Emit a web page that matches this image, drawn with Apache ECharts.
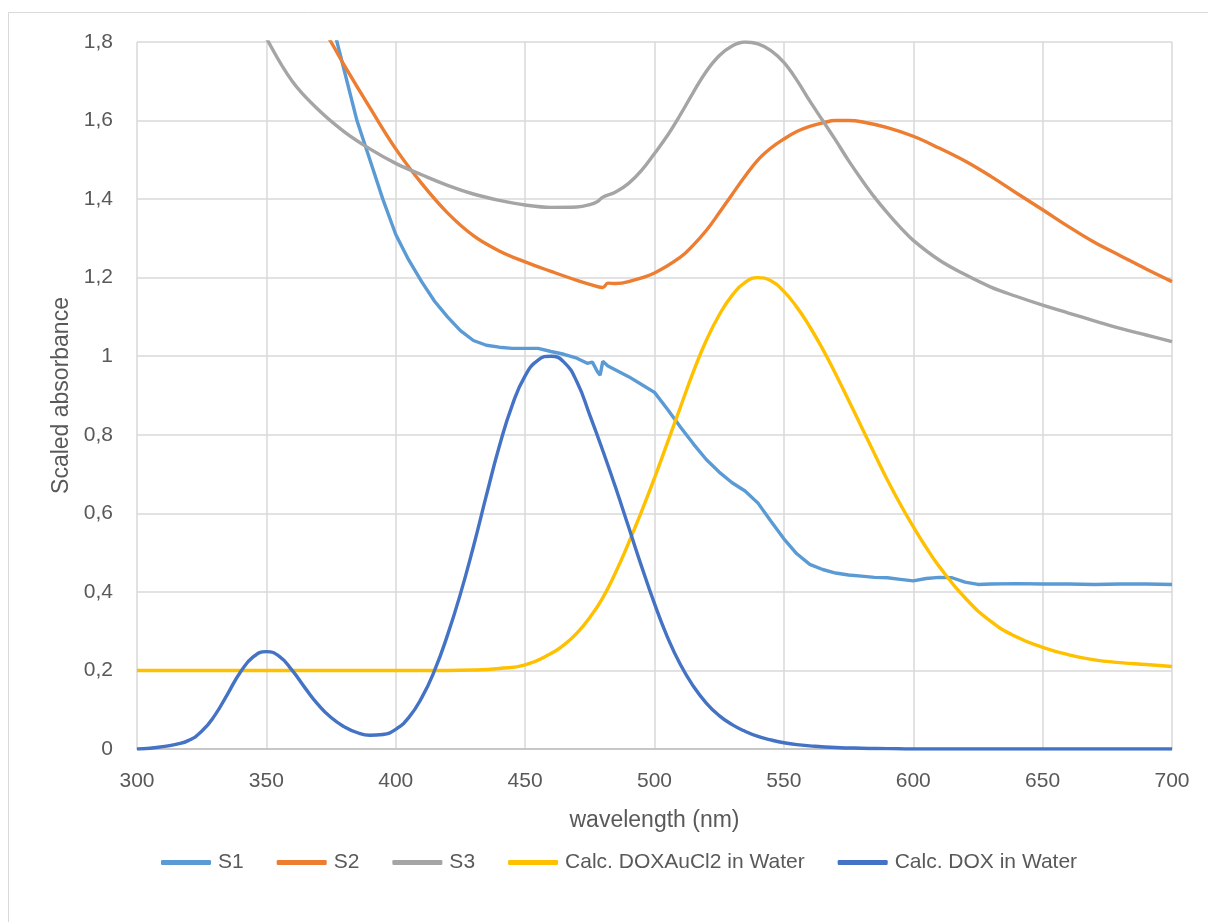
<!DOCTYPE html>
<html>
<head>
<meta charset="utf-8">
<script src="https://cdn.jsdelivr.net/npm/echarts@6/dist/echarts.min.js"></script>
<style>
html,body{margin:0;padding:0;background:#fff;}
#chart{width:1208px;height:922px;}
</style>
</head>
<body>
<div id="chart"></div>
<script>
// ---- Data ----
const xTicks = [300, 350, 400, 450, 500, 550, 600, 650, 700];
const yTicks = [0, 0.2, 0.4, 0.6, 0.8, 1, 1.2, 1.4, 1.6, 1.8];

const s1Wl  = [300, 330, 340, 350, 360, 370, 375, 380, 385, 390, 395, 400, 405, 410, 415, 420, 425, 430, 435, 440, 445, 450, 455, 460, 465, 470, 474, 476, 478, 479, 480, 482, 485, 490, 495, 500, 505, 510, 515, 520, 525, 530, 535, 540, 545, 550, 555, 560, 565, 570, 575, 580, 585, 590, 595, 600, 605, 610, 615, 620, 625, 630, 640, 650, 660, 670, 680, 690, 700];
const s1Abs = [3.9, 3.05, 2.78, 2.5, 2.25, 1.99, 1.86, 1.73, 1.6, 1.5, 1.4, 1.31, 1.245, 1.19, 1.14, 1.1, 1.065, 1.04, 1.028, 1.023, 1.02, 1.02, 1.02, 1.012, 1.005, 0.995, 0.982, 0.985, 0.96, 0.952, 0.987, 0.975, 0.965, 0.948, 0.928, 0.908, 0.865, 0.82, 0.777, 0.737, 0.705, 0.678, 0.657, 0.626, 0.58, 0.535, 0.497, 0.47, 0.457, 0.448, 0.443, 0.44, 0.437, 0.436, 0.432, 0.428, 0.434, 0.437, 0.436, 0.425, 0.419, 0.42, 0.421, 0.42, 0.42, 0.419, 0.42, 0.42, 0.419];

const s2Wl  = [300, 320, 340, 350, 360, 370, 375, 380, 390, 400, 410, 420, 430, 440, 450, 460, 470, 475, 480, 482, 485, 490, 500, 510, 515, 520, 525, 530, 535, 540, 545, 550, 555, 560, 565, 570, 575, 580, 590, 600, 610, 620, 630, 640, 650, 660, 670, 680, 690, 700];
const s2Abs = [2.72, 2.46, 2.21, 2.09, 1.97, 1.855, 1.8, 1.742, 1.633, 1.528, 1.44, 1.365, 1.307, 1.268, 1.24, 1.216, 1.193, 1.183, 1.175, 1.186, 1.185, 1.19, 1.212, 1.252, 1.283, 1.32, 1.365, 1.412, 1.458, 1.5, 1.53, 1.553, 1.572, 1.585, 1.594, 1.6, 1.6, 1.597, 1.582, 1.56, 1.53, 1.497, 1.458, 1.415, 1.373, 1.33, 1.29, 1.256, 1.222, 1.19];

const s3Wl  = [300, 310, 320, 330, 340, 345, 350, 360, 370, 380, 390, 400, 410, 420, 430, 440, 450, 460, 470, 475, 478, 480, 485, 490, 495, 500, 505, 510, 515, 520, 525, 530, 535, 540, 545, 550, 555, 560, 565, 570, 575, 580, 585, 590, 595, 600, 610, 620, 630, 640, 650, 660, 670, 680, 690, 700];
const s3Abs = [2.75, 2.52, 2.32, 2.13, 1.96, 1.88, 1.81, 1.7, 1.628, 1.572, 1.528, 1.491, 1.462, 1.435, 1.413, 1.397, 1.385, 1.379, 1.38, 1.386, 1.394, 1.405, 1.418, 1.44, 1.473, 1.516, 1.562, 1.615, 1.672, 1.725, 1.765, 1.79, 1.8, 1.795, 1.778, 1.748, 1.703, 1.65, 1.6, 1.55, 1.498, 1.45, 1.405, 1.365, 1.328, 1.295, 1.245, 1.208, 1.176, 1.152, 1.13, 1.11, 1.09, 1.071, 1.054, 1.037];

const auWl  = [300, 320, 340, 360, 380, 400, 420, 430, 440, 450, 460, 465, 470, 475, 480, 485, 490, 495, 500, 505, 510, 515, 520, 525, 530, 535, 540, 545, 550, 555, 560, 565, 570, 575, 580, 585, 590, 595, 600, 605, 610, 620, 630, 640, 650, 660, 670, 680, 690, 700];
const auAbs = [0.2, 0.2, 0.2, 0.2, 0.2, 0.2, 0.2, 0.201, 0.205, 0.214, 0.243, 0.265, 0.295, 0.335, 0.385, 0.45, 0.525, 0.605, 0.69, 0.78, 0.87, 0.96, 1.04, 1.105, 1.155, 1.188, 1.2, 1.192, 1.165, 1.125, 1.075, 1.018, 0.955, 0.888, 0.82, 0.752, 0.685, 0.623, 0.566, 0.513, 0.465, 0.385, 0.325, 0.285, 0.259, 0.24, 0.227, 0.22, 0.215, 0.21];

const doxWl  = [300, 305, 310, 315, 320, 325, 330, 335, 340, 345, 350, 355, 360, 365, 370, 375, 380, 385, 390, 395, 400, 405, 410, 415, 420, 425, 430, 435, 440, 445, 450, 455, 460, 465, 470, 475, 480, 485, 490, 495, 500, 505, 510, 515, 520, 525, 530, 535, 540, 545, 550, 555, 560, 570, 580, 590, 600, 650, 700];
const doxAbs = [0, 0.002, 0.006, 0.012, 0.022, 0.045, 0.085, 0.14, 0.196, 0.235, 0.248, 0.236, 0.2, 0.155, 0.113, 0.08, 0.057, 0.042, 0.035, 0.037, 0.05, 0.08, 0.13, 0.2, 0.29, 0.395, 0.515, 0.645, 0.77, 0.875, 0.95, 0.99, 1.0, 0.985, 0.935, 0.85, 0.76, 0.665, 0.565, 0.465, 0.37, 0.285, 0.215, 0.16, 0.117, 0.085, 0.062, 0.045, 0.032, 0.023, 0.016, 0.011, 0.008, 0.004, 0.002, 0.001, 0, 0, 0];

const seriesNames = ['S1', 'S2', 'S3', 'Calc. DOXAuCl2 in Water', 'Calc. DOX in Water'];
const seriesColors = ['#5B9BD5', '#ED7D31', '#A5A5A5', '#FFC000', '#4472C4'];

// ---- Build ----
const pairs = (xs, ys) => xs.map((x, i) => [x, ys[i]]);
const allData = [pairs(s1Wl, s1Abs), pairs(s2Wl, s2Abs), pairs(s3Wl, s3Abs), pairs(auWl, auAbs), pairs(doxWl, doxAbs)];
const smoothFlags = [false, 0.4, 0.4, 0.5, 0.5];

const FONT = '"Liberation Sans", Arial, sans-serif';
const chart = echarts.init(document.getElementById('chart'), null, {renderer: 'canvas'});
chart.setOption({
  animation: false,
  backgroundColor: '#fff',
  textStyle: {fontFamily: FONT},
  graphic: [{
    type: 'rect', silent: true, z: -10,
    shape: {x: 8.5, y: 12.5, width: 1300, height: 1000},
    style: {fill: 'none', stroke: '#D9D9D9', lineWidth: 1}
  }],
  grid: {left: 137, right: 36, top: 42, bottom: 173, containLabel: false},
  xAxis: {
    type: 'value', min: xTicks[0], max: xTicks[xTicks.length - 1], interval: 50,
    name: 'wavelength (nm)', nameLocation: 'middle', nameGap: 60,
    nameTextStyle: {color: '#595959', fontSize: 23, fontFamily: FONT},
    axisLine: {show: true, lineStyle: {color: '#BFBFBF', width: 1.5}},
    axisTick: {show: false},
    axisLabel: {color: '#595959', fontSize: 21, margin: 22, fontFamily: FONT},
    splitLine: {show: true, lineStyle: {color: '#D9D9D9', width: 1.5}}
  },
  yAxis: {
    type: 'value', min: yTicks[0], max: yTicks[yTicks.length - 1], interval: 0.2,
    name: 'Scaled absorbance', nameLocation: 'middle', nameGap: 62, nameRotate: 90,
    nameTextStyle: {color: '#595959', fontSize: 23, fontFamily: FONT},
    axisLine: {show: false},
    axisTick: {show: false},
    axisLabel: {
      color: '#595959', fontSize: 21, margin: 24, fontFamily: FONT,
      formatter: v => String(Math.round(v * 10) / 10).replace('.', ',')
    },
    splitLine: {show: true, lineStyle: {color: '#D9D9D9', width: 1.5}}
  },
  legend: {
    data: seriesNames,
    left: 156, top: 847,
    icon: 'roundRect', itemWidth: 50, itemHeight: 5, itemGap: 33,
    textStyle: {color: '#595959', fontSize: 21, fontFamily: FONT, padding: [0, 0, 0, 2]}
  },
  series: seriesNames.map((name, i) => ({
    name, type: 'line', data: allData[i],
    showSymbol: false, symbol: 'none',
    smooth: smoothFlags[i], clip: true,
    lineStyle: {color: seriesColors[i], width: 3.4},
    itemStyle: {color: seriesColors[i]},
    z: 2 + i
  }))
});
</script>
</body>
</html>
